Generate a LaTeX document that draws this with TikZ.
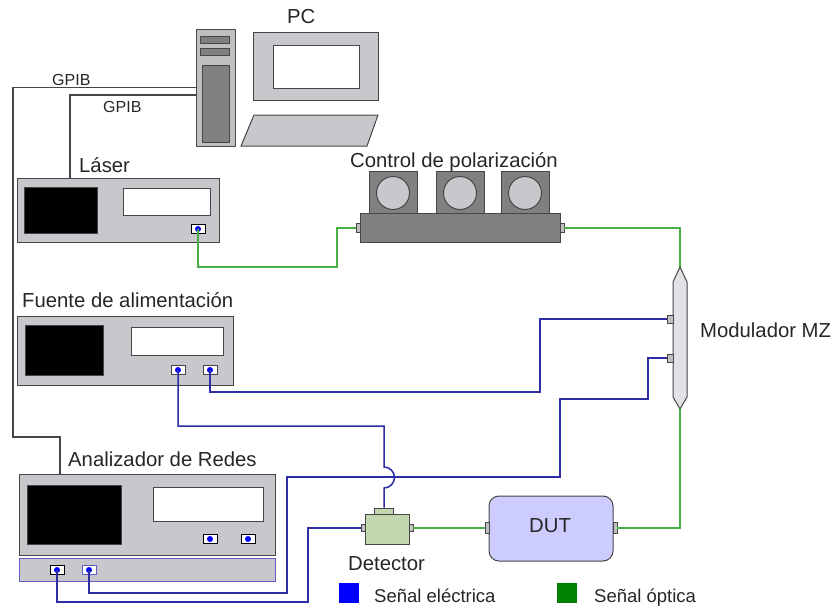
\documentclass[tikz,border=0pt]{standalone}
\usepackage{fontspec}
\setmainfont{Liberation Sans}

\definecolor{panel}{RGB}{200,200,204}
\definecolor{frame}{RGB}{70,70,70}
\definecolor{pcgray}{RGB}{192,192,192}
\definecolor{slot}{RGB}{128,128,128}
\definecolor{mzfill}{RGB}{226,226,230}
\definecolor{detgreen}{RGB}{195,215,175}
\definecolor{dutblue}{RGB}{204,204,255}
\definecolor{wireE}{RGB}{45,45,165}
\definecolor{stripE}{RGB}{95,95,195}
\definecolor{wireO}{RGB}{70,175,70}
\definecolor{keygreen}{RGB}{0,128,0}

\begin{document}
\begin{tikzpicture}[x=1pt, y=-1pt,
	every node/.style={inner sep=0pt},
	lbl/.style={anchor=base west, text=black!85, font=\fontsize{20.3}{23}\selectfont},
	dev/.style={draw=frame, line width=1pt, fill=panel},
	screen/.style={draw=frame, fill=black},
	lcd/.style={draw=frame, line width=1pt, fill=white},
	bnc/.style={draw=black, line width=0.8pt, fill=white, minimum width=14pt, minimum height=9pt,
		path picture={\fill[blue] (path picture bounding box.center) circle (3pt);}},
	fib/.style={draw=frame, line width=0.7pt, fill=pcgray},
	elec/.style={draw=wireE, line width=1.5pt},
	opt/.style={draw=wireO, line width=1.3pt},
	gpib/.style={draw=frame, line width=1.2pt}]
	\useasboundingbox (0,0) rectangle (833,608);
	
	% PC
	\node[dev, fill=pcgray, minimum width=39pt, minimum height=117pt] (tower) at (215.5,87.5) {};
	\node[dev, fill=slot, minimum width=29pt, minimum height=7pt] (bay1) at (214.5,39.5) {};
	\node[dev, fill=slot, minimum width=29pt, minimum height=7pt] (bay2) at (214.5,51.5) {};
	\node[dev, fill=slot, minimum width=27pt, minimum height=77pt] (tower-face) at (215.5,103.5) {};
	\node[dev, minimum width=125pt, minimum height=68pt] (monitor) at (315.5,66) {};
	\node[lcd, minimum width=86pt, minimum height=43pt] (monitor-scr) at (316,66.5) {};
	\draw[dev] (254,115) -- (378,115) -- (367,146) -- (241,146) -- cycle;
	\node[lbl] (pc-lbl) at (287,23) {PC};
	\node[lbl, font=\fontsize{16}{18}\selectfont] (gpib1-lbl) at (52,85) {GPIB};
	\node[lbl, font=\fontsize{16}{18}\selectfont] (gpib2-lbl) at (103,112) {GPIB};
	
	% Laser
	\node[dev, minimum width=202pt, minimum height=64pt] (laser) at (118,210) {};
	\node[screen, minimum width=73pt, minimum height=46pt] (laser-scr) at (60.5,210) {};
	\node[lcd, minimum width=87pt, minimum height=27pt] (laser-lcd) at (166.5,201.5) {};
	\node[bnc] (laser-out) at (198,229) {};
	\node[lbl] (laser-lbl) at (79,172) {Láser};
	
	% Fuente
	\node[dev, minimum width=216pt, minimum height=69pt] (psu) at (125,350.5) {};
	\node[screen, minimum width=78pt, minimum height=50pt] (psu-scr) at (64,350) {};
	\node[lcd, minimum width=92pt, minimum height=28pt] (psu-lcd) at (177,341) {};
	\node[bnc, draw=frame] (psu-a) at (178,370) {};
	\node[bnc, draw=frame] (psu-b) at (210,370) {};
	\node[lbl] (psu-lbl) at (22,307) {Fuente de alimentación};
	
	% Analizador
	\node[dev, minimum width=256pt, minimum height=81pt] (vna) at (147,514.5) {};
	\node[screen, minimum width=94pt, minimum height=59pt] (vna-scr) at (74,514.5) {};
	\node[lcd, minimum width=110pt, minimum height=34pt] (vna-lcd) at (208,504) {};
	\node[bnc] (vna-c) at (210,539) {};
	\node[bnc] (vna-d) at (248,539) {};
	\node[dev, draw=stripE, minimum width=256pt, minimum height=23pt] (vna-strip) at (147,569.5) {};
	\node[bnc] (vna-a) at (57,570) {};
	\node[bnc, draw=stripE] (vna-b) at (89,570) {};
	\node[lbl] (vna-lbl) at (68,466) {Analizador de Redes};
	
	% Control de polarizacion
	\node[dev, fill=slot, minimum width=200pt, minimum height=29pt] (pol) at (460,227.5) {};
	\foreach \x/\n in {393/1, 460/2, 525/3} {
		\node[dev, fill=slot, minimum width=48pt, minimum height=42pt] (knob\n) at (\x,192) {};
		\node[dev, circle, minimum size=33pt] (dial\n) at (\x,193) {};
	}
	\node[fib, minimum width=4pt, minimum height=9pt] (pol-in) at (358,228) {};
	\node[fib, minimum width=4pt, minimum height=9pt] (pol-out) at (562,228) {};
	\node[lbl] (pol-lbl) at (350,167) {Control de polarización};
	
	% Modulador
	\draw[dev, fill=mzfill] (680,267) -- (687,282) -- (687,397) -- (680,409) -- (673,397) -- (673,282) -- cycle;
	\coordinate (mz-top) at (680,267);
	\coordinate (mz-bot) at (680,409);
	\node[fib, minimum width=6pt, minimum height=8pt] (mz-rf1) at (670,319) {};
	\node[fib, minimum width=6pt, minimum height=8pt] (mz-rf2) at (670,358) {};
	\node[lbl] (mz-lbl) at (700,337) {Modulador MZ};
	
	% Detector y DUT
	\node[dev, fill=detgreen, minimum width=44pt, minimum height=30pt] (det) at (387,529) {};
	\node[dev, fill=detgreen, minimum width=19pt, minimum height=6pt] (det-tab) at (384,511) {};
	\node[fib, minimum width=4pt, minimum height=7pt] (det-in) at (363,528) {};
	\node[fib, minimum width=4pt, minimum height=7pt] (det-out) at (411,528) {};
	\node[lbl] (det-lbl) at (348,570) {Detector};
	\node[dev, fill=dutblue, rounded corners=10pt, minimum width=124pt, minimum height=65pt] (dut) at (551,528.5) {};
	\node[fib, minimum width=4pt, minimum height=11pt] (dut-in) at (487,528) {};
	\node[fib, minimum width=4pt, minimum height=11pt] (dut-out) at (615,528) {};
	\node[lbl] (dut-lbl) at (529,532) {DUT};
	
	% Leyenda
	\node[fill=blue, minimum size=20pt] (key-e) at (349,593) {};
	\node[lbl, font=\fontsize{18.5}{21}\selectfont] (key-e-lbl) at (374,602) {Señal eléctrica};
	\node[fill=keygreen, minimum size=20pt] (key-o) at (567,593) {};
	\node[lbl, font=\fontsize{18.5}{21}\selectfont] (key-o-lbl) at (594,602) {Señal óptica};
	
	% GPIB
	\draw[gpib] (tower.west) -| (13,437) -| ([xshift=-87pt]vna.north);
	\draw[gpib] ([yshift=-7.5pt]tower.west) -| ([xshift=-48pt]laser.north);
	
	% senal optica
	\draw[opt] (laser-out.center) |- (337,267) |- (pol-in);
	\draw[opt] (pol-out) -| (mz-top);
	\draw[opt] (det-out) -- (dut-in);
	\draw[opt] (dut-out) -| (mz-bot);
	
	% senal electrica
	\draw[elec] (psu-b.center) |- (540,392) |- (mz-rf1);
	\draw[elec] (psu-a.center) |- (384,426) -- (384,467)
		arc[start angle=90, end angle=-90, radius=10.5pt] -- (det-tab);
	\draw[elec] (vna-b.center) |- (287,593) |- (560,477) |- (648,399) |- (mz-rf2);
	\draw[elec] (vna-a.center) |- (308,602) |- (det-in);
\end{tikzpicture}
\end{document}
